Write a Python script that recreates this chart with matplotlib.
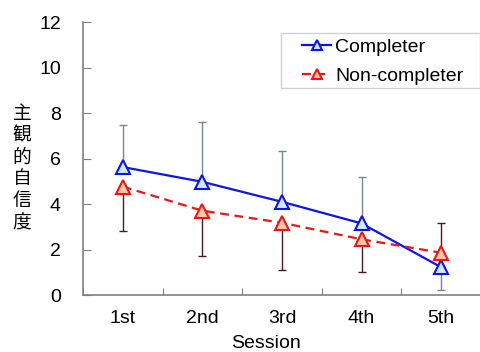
import numpy as np
import matplotlib
matplotlib.use('Agg')
import matplotlib.pyplot as plt
from matplotlib.patches import Rectangle

sessions = ['1st', '2nd', '3rd', '4th', '5th']
completer = [5.63, 4.98, 4.10, 3.15, 1.22]
completer_sd = [1.87, 2.62, 2.23, 2.03, 1.00]
noncompleter = [4.77, 3.71, 3.18, 2.45, 1.86]
noncompleter_sd = [1.97, 1.99, 2.08, 1.42, 1.29]

plt.rcParams['font.family'] = ['Liberation Sans', 'Noto Sans CJK JP']

W, H = 481, 352
fig = plt.figure(figsize=(W / 100, H / 100), dpi=100)
ax = fig.add_axes([83 / W, 1 - 295 / H, 1 - 83 / W, (295 - 22.3) / H])

x = np.arange(len(sessions))
c = np.array(completer)
n = np.array(noncompleter)
# error bars point away from the other group
c_up = c >= n
c_err = [np.where(c_up, 0, completer_sd), np.where(c_up, completer_sd, 0)]
n_err = [np.where(c_up, noncompleter_sd, 0), np.where(c_up, 0, noncompleter_sd)]

ax.errorbar(x, c, yerr=c_err, fmt='none', ecolor='#7a8499', elinewidth=1, capsize=3, capthick=1, zorder=2)
ax.errorbar(x, n, yerr=n_err, fmt='none', ecolor='#4a1a24', elinewidth=1, capsize=3, capthick=1, zorder=2)
ax.plot(x, c, color='#0a14f0', lw=1.6, marker='^', ms=10, mfc='#d3e8f2', mec='#0a14f0', mew=1.5,
        label='Completer', zorder=3)
ax.plot(x, n, color='#f01414', lw=1.6, ls=(0, (4, 2.5)), marker='^', ms=10, mfc='#f8c8a8', mec='#f01414',
        mew=1.5, label='Non-completer', zorder=3)

ax.set_xlim(-0.5, 4.5)
ax.set_ylim(0, 12)
ax.set_yticks(range(0, 13, 2))
ax.set_xticks(np.arange(-0.5, 4.6, 1))
ax.set_xticklabels([])
ax.set_xticks(x, minor=True)
ax.set_xticklabels(sessions, minor=True)
ax.tick_params(axis='x', which='minor', length=0, pad=11, labelsize=14)
ax.tick_params(axis='x', which='major', direction='in', length=5, color='#808080')
ax.tick_params(axis='y', direction='in', length=6, color='#808080', pad=16, labelsize=14)
for s in ['top', 'right']:
    ax.spines[s].set_visible(False)
for s in ['left', 'bottom']:
    ax.spines[s].set_color('#808080')
    ax.spines[s].set_linewidth(1.2)

# legend box drawn separately (wide side padding)
fig.add_artist(Rectangle((281 / W, 1 - 88 / H), 199 / W, 55 / H, transform=fig.transFigure,
                         fill=False, ec='#d0d0d0', lw=1.0))
leg = ax.legend(loc='upper left', bbox_to_anchor=(302 / W, 1 - 38 / H), bbox_transform=fig.transFigure,
                fontsize=14, frameon=False, handlelength=1.5, handletextpad=0.2, borderpad=0,
                labelspacing=0.62, borderaxespad=0, markerscale=0.75)

fig.text(22 / W, 1 - 168 / H, '\n'.join('主観的自信度'), ha='center', va='center', fontsize=13.5,
         family=['Noto Sans CJK JP'], linespacing=1.06)
fig.text(266 / W, 1 - 343 / H, 'Session', ha='center', va='center', fontsize=14)

fig.savefig('out.png', dpi=100)
